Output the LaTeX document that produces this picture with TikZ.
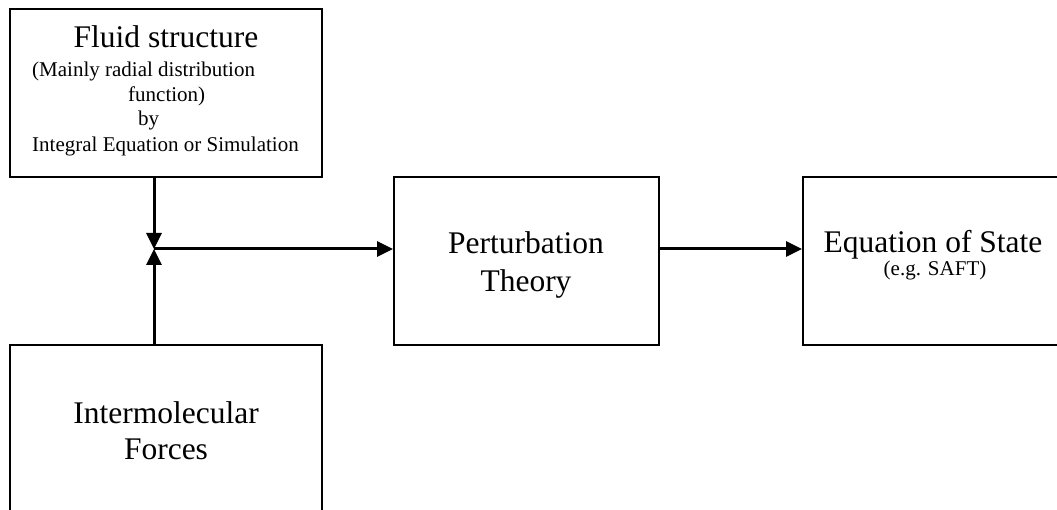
\documentclass[tikz,border=0pt]{standalone}
\usepackage{fontspec}
\setmainfont{Liberation Serif}
\usetikzlibrary{arrows.meta}
\begin{document}
\begin{tikzpicture}[x=1pt,y=-1pt,
  box/.style={draw, line width=2pt, inner sep=0pt},
  arr/.style={line width=3pt, -{Triangle[length=16pt,width=15pt]}},
  big/.style={inner sep=0pt, anchor=base, font=\fontsize{31.5}{36}\selectfont},
  small/.style={inner sep=0pt, anchor=base west, font=\fontsize{21}{24}\selectfont},
  smallc/.style={inner sep=0pt, anchor=base, font=\fontsize{21}{24}\selectfont}]
\useasboundingbox (0,0) rectangle (1057,510);
\clip (0,0) rectangle (1057,510);
% boxes
\node[box, minimum width=312pt, minimum height=168pt] (fluid) at (166,93) {};
\node[box, minimum width=312pt, minimum height=180pt] (inter) at (166,435) {};
\node[box, minimum width=265pt, minimum height=168pt] (pert) at (526.5,261) {};
\node[box, minimum width=267pt, minimum height=168pt] (eos) at (936.5,261) {};
% texts
\node[big] (t1) at (166,48) {Fluid structure};
\node[small] (t2) at (32,77) {(Mainly radial distribution};
\node[small] (t3) at (128,102) {function)};
\node[small] (t4) at (138,126) {by};
\node[small] (t5) at (32,152) {Integral Equation or Simulation};
\node[big] (t6) at (166,423) {Intermolecular};
\node[big] (t7) at (166,459) {Forces};
\node[big] (t8) at (526,254) {Perturbation};
\node[big] (t9) at (526,292) {Theory};
\node[big] (t10) at (933,253) {Equation of State};
\node[smallc] (t11) at (935,276) {(e.g. SAFT)};
% connectors
\coordinate (j) at (154,249);
\draw[arr] (j |- fluid.south) -- (j);
\draw[arr] (j |- inter.north) -- (j);
\draw[arr] (j) -- (j -| pert.west);
\draw[arr] (pert.east |- j) -- (j -| eos.west);
\end{tikzpicture}
\end{document}
